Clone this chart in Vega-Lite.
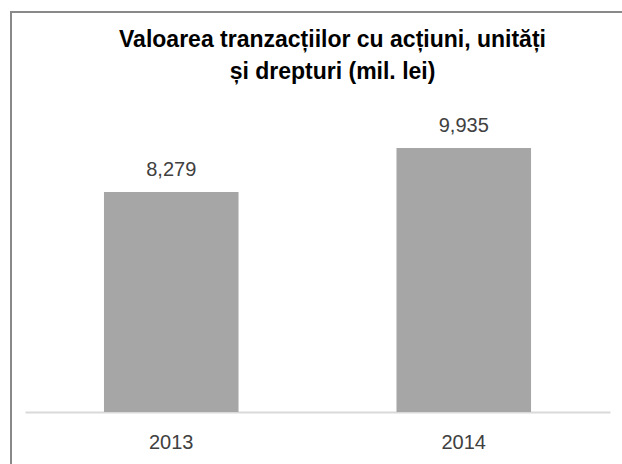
{
  "$schema": "https://vega.github.io/schema/vega-lite/v6.json",
  "autosize": {"type": "none"},
  "padding": {"left": 11, "top": 12, "right": -12, "bottom": -12},
  "width": 623,
  "height": 464,
  "background": "white",
  "config": {
    "view": {"stroke": "#898989", "strokeWidth": 2},
    "font": "Liberation Sans Narrow, Arial Narrow, Liberation Sans, sans-serif"
  },
  "title": {
    "text": ["Valoarea tranzacțiilor cu acțiuni, unități", "și drepturi (mil. lei)"],
    "anchor": "middle",
    "frame": "group",
    "font": "Liberation Sans Narrow, Arial Narrow, Liberation Sans, sans-serif",
    "fontSize": 23,
    "fontWeight": "bold",
    "color": "#000000",
    "lineHeight": 32,
    "baseline": "top",
    "dx": 10,
    "dy": 76
  },
  "data": {
    "values": [
      {"year": "2013", "value": 8279},
      {"year": "2014", "value": 9935}
    ]
  },
  "encoding": {
    "x": {
      "field": "year",
      "type": "nominal",
      "sort": null,
      "scale": {"range": [14, 599], "paddingInner": 0, "paddingOuter": 0},
      "axis": {
        "title": null,
        "orient": "bottom",
        "offset": -64,
        "labelAngle": 0,
        "ticks": false,
        "domainColor": "#d9d9d9",
        "domainWidth": 2,
        "labelFontSize": 20,
        "labelColor": "#404040",
        "labelPadding": 20,
        "grid": false
      }
    },
    "y": {
      "field": "value",
      "type": "quantitative",
      "scale": {"domain": [0, 12000], "range": [400, 81], "nice": false},
      "axis": null
    }
  },
  "layer": [
    {
      "mark": {"type": "bar", "color": "#a6a6a6", "width": {"band": 0.46}}
    },
    {
      "mark": {"type": "text", "dy": -16, "baseline": "alphabetic", "fontSize": 20, "color": "#404040"},
      "encoding": {
        "text": {"field": "value", "type": "quantitative", "format": ",d"}
      }
    }
  ]
}
